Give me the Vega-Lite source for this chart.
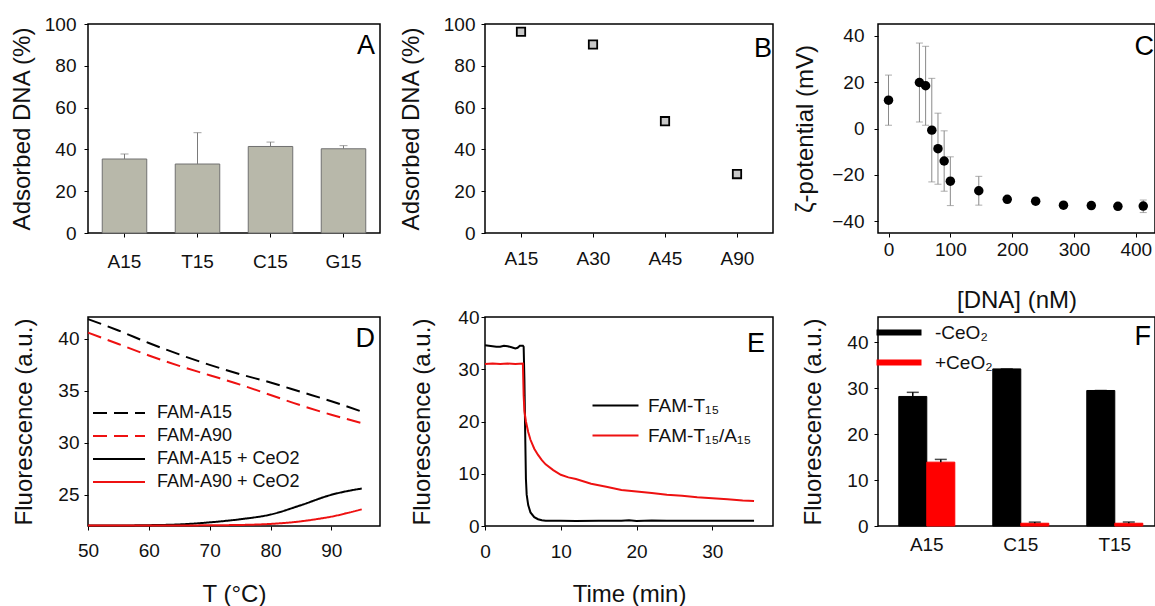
{
  "$schema": "https://vega.github.io/schema/vega-lite/v6.json",
  "padding": {"left": 9, "top": 14, "right": 0, "bottom": 0},
  "config": {
    "font": "Liberation Sans",
    "view": {"stroke": "#000", "strokeWidth": 1.5},
    "axis": {"grid": false, "domain": false, "labelFont": "Liberation Sans", "labelFontSize": 19, "labelColor": "#111", "titleFont": "Liberation Sans", "titleFontSize": 24, "titleFontWeight": "normal", "titleColor": "#111", "tickColor": "#000", "tickSize": 4, "tickWidth": 1, "labelFlush": false, "labelOverlap": false},
    "axisX": {"labelAngle": 0, "titleBaseline": "top"},
    "axisY": {"titleBaseline": "bottom"},
    "title": {"fontSize": 27, "fontWeight": "normal", "anchor": "end", "frame": "group", "color": "#000", "font": "Liberation Sans"},
    "legend": {"padding": 0, "labelFont": "Liberation Sans", "labelColor": "#111"}
  },
  "datasets": {
    "adsA": [
      {"seq": "A15", "pct": 35.4, "upper": 37.8},
      {"seq": "T15", "pct": 33.0, "upper": 48.0},
      {"seq": "C15", "pct": 41.4, "upper": 43.5},
      {"seq": "G15", "pct": 40.3, "upper": 41.8}
    ],
    "adsB": [
      {"seq": "A15", "pct": 96.3},
      {"seq": "A30", "pct": 90.2},
      {"seq": "A45", "pct": 53.5},
      {"seq": "A90", "pct": 28.2}
    ],
    "zeta": [
      {"dna": 0, "zeta": 12.2, "lo": 1.4, "hi": 23.0},
      {"dna": 50, "zeta": 19.8, "lo": 2.8, "hi": 36.8},
      {"dna": 60, "zeta": 18.4, "lo": 1.4, "hi": 35.4},
      {"dna": 70, "zeta": -0.7, "lo": -23.0, "hi": 21.6},
      {"dna": 80, "zeta": -8.7, "lo": -24.0, "hi": 6.6},
      {"dna": 90, "zeta": -14.0, "lo": -27.0, "hi": -1.0},
      {"dna": 100, "zeta": -22.7, "lo": -33.2, "hi": -12.2},
      {"dna": 146, "zeta": -26.8, "lo": -33.0, "hi": -20.6},
      {"dna": 192, "zeta": -30.5, "lo": -31.5, "hi": -29.5},
      {"dna": 238, "zeta": -31.3, "lo": -32.3, "hi": -30.3},
      {"dna": 283, "zeta": -33.0, "lo": -34.0, "hi": -32.0},
      {"dna": 328, "zeta": -33.2, "lo": -34.2, "hi": -32.2},
      {"dna": 371, "zeta": -33.5, "lo": -34.5, "hi": -32.5},
      {"dna": 412, "zeta": -33.4, "lo": -36.2, "hi": -30.8}
    ],
    "melt": [
      {"series": "FAM-A15", "temp": 50, "fl": 41.9},
      {"series": "FAM-A15", "temp": 55, "fl": 40.8},
      {"series": "FAM-A15", "temp": 60, "fl": 39.6},
      {"series": "FAM-A15", "temp": 65, "fl": 38.5},
      {"series": "FAM-A15", "temp": 70, "fl": 37.5},
      {"series": "FAM-A15", "temp": 75, "fl": 36.6},
      {"series": "FAM-A15", "temp": 80, "fl": 35.8},
      {"series": "FAM-A15", "temp": 85, "fl": 34.9},
      {"series": "FAM-A15", "temp": 90, "fl": 34.0},
      {"series": "FAM-A15", "temp": 95, "fl": 33.0},
      {"series": "FAM-A90", "temp": 50, "fl": 40.6},
      {"series": "FAM-A90", "temp": 55, "fl": 39.5},
      {"series": "FAM-A90", "temp": 60, "fl": 38.4},
      {"series": "FAM-A90", "temp": 65, "fl": 37.4},
      {"series": "FAM-A90", "temp": 70, "fl": 36.5},
      {"series": "FAM-A90", "temp": 75, "fl": 35.6},
      {"series": "FAM-A90", "temp": 80, "fl": 34.6},
      {"series": "FAM-A90", "temp": 85, "fl": 33.6},
      {"series": "FAM-A90", "temp": 90, "fl": 32.7},
      {"series": "FAM-A90", "temp": 95, "fl": 31.9},
      {"series": "FAM-A15 + CeO2", "temp": 50, "fl": 22.05},
      {"series": "FAM-A15 + CeO2", "temp": 55, "fl": 22.05},
      {"series": "FAM-A15 + CeO2", "temp": 60, "fl": 22.08},
      {"series": "FAM-A15 + CeO2", "temp": 65, "fl": 22.15},
      {"series": "FAM-A15 + CeO2", "temp": 70, "fl": 22.35},
      {"series": "FAM-A15 + CeO2", "temp": 75, "fl": 22.65},
      {"series": "FAM-A15 + CeO2", "temp": 80, "fl": 23.1},
      {"series": "FAM-A15 + CeO2", "temp": 85, "fl": 24.0},
      {"series": "FAM-A15 + CeO2", "temp": 90, "fl": 25.0},
      {"series": "FAM-A15 + CeO2", "temp": 93, "fl": 25.4},
      {"series": "FAM-A15 + CeO2", "temp": 95, "fl": 25.6},
      {"series": "FAM-A90 + CeO2", "temp": 50, "fl": 22.05},
      {"series": "FAM-A90 + CeO2", "temp": 55, "fl": 22.05},
      {"series": "FAM-A90 + CeO2", "temp": 60, "fl": 22.05},
      {"series": "FAM-A90 + CeO2", "temp": 65, "fl": 22.05},
      {"series": "FAM-A90 + CeO2", "temp": 70, "fl": 22.07},
      {"series": "FAM-A90 + CeO2", "temp": 75, "fl": 22.1},
      {"series": "FAM-A90 + CeO2", "temp": 80, "fl": 22.2},
      {"series": "FAM-A90 + CeO2", "temp": 85, "fl": 22.45},
      {"series": "FAM-A90 + CeO2", "temp": 88, "fl": 22.7},
      {"series": "FAM-A90 + CeO2", "temp": 90, "fl": 22.9},
      {"series": "FAM-A90 + CeO2", "temp": 93, "fl": 23.3},
      {"series": "FAM-A90 + CeO2", "temp": 95, "fl": 23.6}
    ],
    "kinetics": [
      {"series": "FAM-T₁₅", "time": 0, "fl": 34.6},
      {"series": "FAM-T₁₅", "time": 0.5, "fl": 34.5},
      {"series": "FAM-T₁₅", "time": 1, "fl": 34.4},
      {"series": "FAM-T₁₅", "time": 1.5, "fl": 34.3},
      {"series": "FAM-T₁₅", "time": 2, "fl": 34.3},
      {"series": "FAM-T₁₅", "time": 2.5, "fl": 34.5},
      {"series": "FAM-T₁₅", "time": 3, "fl": 34.4},
      {"series": "FAM-T₁₅", "time": 3.5, "fl": 34.2},
      {"series": "FAM-T₁₅", "time": 4, "fl": 34.0},
      {"series": "FAM-T₁₅", "time": 4.3, "fl": 34.1},
      {"series": "FAM-T₁₅", "time": 4.6, "fl": 34.5},
      {"series": "FAM-T₁₅", "time": 5.0, "fl": 34.5},
      {"series": "FAM-T₁₅", "time": 5.1, "fl": 34.3},
      {"series": "FAM-T₁₅", "time": 5.2, "fl": 28.0},
      {"series": "FAM-T₁₅", "time": 5.3, "fl": 18.0},
      {"series": "FAM-T₁₅", "time": 5.4, "fl": 9.0},
      {"series": "FAM-T₁₅", "time": 5.5, "fl": 6.0},
      {"series": "FAM-T₁₅", "time": 5.7, "fl": 4.0},
      {"series": "FAM-T₁₅", "time": 6.0, "fl": 2.6},
      {"series": "FAM-T₁₅", "time": 6.5, "fl": 1.7},
      {"series": "FAM-T₁₅", "time": 7, "fl": 1.3},
      {"series": "FAM-T₁₅", "time": 7.5, "fl": 1.1},
      {"series": "FAM-T₁₅", "time": 8, "fl": 1.0},
      {"series": "FAM-T₁₅", "time": 10, "fl": 1.0},
      {"series": "FAM-T₁₅", "time": 12, "fl": 0.95},
      {"series": "FAM-T₁₅", "time": 15, "fl": 1.0},
      {"series": "FAM-T₁₅", "time": 18, "fl": 1.0},
      {"series": "FAM-T₁₅", "time": 19, "fl": 1.1},
      {"series": "FAM-T₁₅", "time": 20, "fl": 0.95},
      {"series": "FAM-T₁₅", "time": 22, "fl": 1.05},
      {"series": "FAM-T₁₅", "time": 24, "fl": 1.0},
      {"series": "FAM-T₁₅", "time": 27, "fl": 1.0},
      {"series": "FAM-T₁₅", "time": 30, "fl": 1.0},
      {"series": "FAM-T₁₅", "time": 33, "fl": 1.0},
      {"series": "FAM-T₁₅", "time": 35.5, "fl": 1.0},
      {"series": "FAM-T₁₅/A₁₅", "time": 0, "fl": 31.0},
      {"series": "FAM-T₁₅/A₁₅", "time": 1, "fl": 31.1},
      {"series": "FAM-T₁₅/A₁₅", "time": 2, "fl": 31.0},
      {"series": "FAM-T₁₅/A₁₅", "time": 3, "fl": 31.1},
      {"series": "FAM-T₁₅/A₁₅", "time": 4, "fl": 31.0},
      {"series": "FAM-T₁₅/A₁₅", "time": 5.0, "fl": 31.1},
      {"series": "FAM-T₁₅/A₁₅", "time": 5.1, "fl": 25.0},
      {"series": "FAM-T₁₅/A₁₅", "time": 5.2, "fl": 22.0},
      {"series": "FAM-T₁₅/A₁₅", "time": 5.4, "fl": 20.0},
      {"series": "FAM-T₁₅/A₁₅", "time": 5.7, "fl": 18.0},
      {"series": "FAM-T₁₅/A₁₅", "time": 6.0, "fl": 16.5},
      {"series": "FAM-T₁₅/A₁₅", "time": 6.5, "fl": 14.8},
      {"series": "FAM-T₁₅/A₁₅", "time": 7, "fl": 13.6},
      {"series": "FAM-T₁₅/A₁₅", "time": 7.5, "fl": 12.6},
      {"series": "FAM-T₁₅/A₁₅", "time": 8, "fl": 11.8},
      {"series": "FAM-T₁₅/A₁₅", "time": 9, "fl": 10.7},
      {"series": "FAM-T₁₅/A₁₅", "time": 10, "fl": 9.8},
      {"series": "FAM-T₁₅/A₁₅", "time": 11, "fl": 9.3},
      {"series": "FAM-T₁₅/A₁₅", "time": 12, "fl": 9.0},
      {"series": "FAM-T₁₅/A₁₅", "time": 14, "fl": 8.1},
      {"series": "FAM-T₁₅/A₁₅", "time": 16, "fl": 7.5},
      {"series": "FAM-T₁₅/A₁₅", "time": 18, "fl": 6.9},
      {"series": "FAM-T₁₅/A₁₅", "time": 20, "fl": 6.6},
      {"series": "FAM-T₁₅/A₁₅", "time": 22, "fl": 6.3},
      {"series": "FAM-T₁₅/A₁₅", "time": 24, "fl": 6.0},
      {"series": "FAM-T₁₅/A₁₅", "time": 26, "fl": 5.8},
      {"series": "FAM-T₁₅/A₁₅", "time": 28, "fl": 5.5},
      {"series": "FAM-T₁₅/A₁₅", "time": 30, "fl": 5.3},
      {"series": "FAM-T₁₅/A₁₅", "time": 32, "fl": 5.1},
      {"series": "FAM-T₁₅/A₁₅", "time": 34, "fl": 4.9},
      {"series": "FAM-T₁₅/A₁₅", "time": 35.5, "fl": 4.8}
    ],
    "ceo2": [
      {"seq": "A15", "treat": "-CeO₂", "value": 28.2, "upper": 29.1},
      {"seq": "A15", "treat": "+CeO₂", "value": 13.9, "upper": 14.5},
      {"seq": "C15", "treat": "-CeO₂", "value": 34.2, "upper": 34.2},
      {"seq": "C15", "treat": "+CeO₂", "value": 0.6, "upper": 0.85},
      {"seq": "T15", "treat": "-CeO₂", "value": 29.5, "upper": 29.5},
      {"seq": "T15", "treat": "+CeO₂", "value": 0.6, "upper": 0.85}
    ]
  },
  "bounds": "flush",
  "columns": 3,
  "spacing": {"row": 84, "column": 105},
  "resolve": {
    "scale": {"color": "independent", "strokeDash": "independent", "fill": "independent", "stroke": "independent", "x": "independent", "y": "independent", "xOffset": "independent"},
    "legend": {"color": "independent", "strokeDash": "independent", "fill": "independent", "stroke": "independent"}
  },
  "concat": [
    {
      "width": 292, "height": 209,
      "title": {"text": "A", "offset": -44.5, "dx": -5},
      "data": {"name": "adsA"},
      "encoding": {
        "x": {"field": "seq", "type": "nominal", "sort": null, "title": null, "scale": {"paddingInner": 0.39, "paddingOuter": 0.195}, "axis": {"labelPadding": 15}}
      },
      "layer": [
        {
          "mark": {"type": "bar", "fill": "#b8b8aa", "stroke": "#707070", "strokeWidth": 1},
          "encoding": {"y": {"field": "pct", "type": "quantitative", "scale": {"domain": [0, 100], "nice": false}, "axis": {"title": "Adsorbed DNA (%)", "values": [0, 20, 40, 60, 80, 100], "labelPadding": 8, "titleX": -54}}}
        },
        {
          "mark": {"type": "rule", "color": "#7a7a7a", "strokeWidth": 1},
          "encoding": {"y": {"field": "pct", "type": "quantitative", "axis": {"title": "Adsorbed DNA (%)", "values": [0, 20, 40, 60, 80, 100], "labelPadding": 8, "titleX": -54}}, "y2": {"field": "upper"}}
        },
        {
          "mark": {"type": "tick", "color": "#7a7a7a", "size": 8, "thickness": 1},
          "encoding": {"y": {"field": "upper", "type": "quantitative", "axis": {"title": "Adsorbed DNA (%)", "values": [0, 20, 40, 60, 80, 100], "labelPadding": 8, "titleX": -54}}}
        }
      ]
    },
    {
      "width": 288, "height": 209,
      "title": {"text": "B", "offset": -47.5, "dx": -1},
      "data": {"name": "adsB"},
      "mark": {"type": "point", "shape": "square", "size": 70, "fill": "#c8c8c8", "stroke": "#000", "strokeWidth": 1.8, "opacity": 1},
      "encoding": {
        "x": {"field": "seq", "type": "nominal", "sort": null, "title": null, "scale": {"type": "point", "padding": 0.5}, "axis": {"labelPadding": 12}},
        "y": {"field": "pct", "type": "quantitative", "scale": {"domain": [0, 100], "nice": false}, "axis": {"title": "Adsorbed DNA (%)", "values": [0, 20, 40, 60, 80, 100], "labelPadding": 6, "titleX": -62}}
      }
    },
    {
      "width": 277, "height": 209,
      "title": {"text": "C", "offset": -36.75, "dx": -1},
      "data": {"name": "zeta"},
      "encoding": {
        "x": {"field": "dna", "type": "quantitative", "scale": {"domain": [-17, 431], "nice": false, "zero": false}, "axis": {"title": "[DNA] (nM)", "values": [0, 100, 200, 300, 400], "labelPadding": 3, "titleY": 55}}
      },
      "layer": [
        {
          "mark": {"type": "rule", "color": "#8a8a8a", "strokeWidth": 1},
          "encoding": {"y": {"field": "lo", "type": "quantitative", "scale": {"domain": [-45, 45], "nice": false, "zero": false}, "axis": {"title": "ζ-potential (mV)", "values": [-40, -20, 0, 20, 40], "labelPadding": 10, "titleX": -61}}, "y2": {"field": "hi"}}
        },
        {
          "mark": {"type": "tick", "orient": "horizontal", "color": "#8a8a8a", "size": 7, "thickness": 1},
          "encoding": {"y": {"field": "hi", "type": "quantitative", "axis": {"title": "ζ-potential (mV)", "values": [-40, -20, 0, 20, 40], "labelPadding": 10, "titleX": -61}}}
        },
        {
          "mark": {"type": "tick", "orient": "horizontal", "color": "#8a8a8a", "size": 7, "thickness": 1},
          "encoding": {"y": {"field": "lo", "type": "quantitative", "axis": {"title": "ζ-potential (mV)", "values": [-40, -20, 0, 20, 40], "labelPadding": 10, "titleX": -61}}}
        },
        {
          "mark": {"type": "circle", "size": 90, "color": "#000", "opacity": 1},
          "encoding": {"y": {"field": "zeta", "type": "quantitative", "axis": {"title": "ζ-potential (mV)", "values": [-40, -20, 0, 20, 40], "labelPadding": 10, "titleX": -61}}}
        }
      ]
    },
    {
      "width": 292, "height": 209,
      "title": {"text": "D", "offset": -37.75, "dx": -5},
      "data": {"name": "melt"},
      "mark": {"type": "line", "strokeWidth": 2, "interpolate": "monotone"},
      "encoding": {
        "x": {"field": "temp", "type": "quantitative", "scale": {"domain": [50, 98], "nice": false, "zero": false}, "axis": {"title": "T (°C)", "values": [50, 60, 70, 80, 90], "labelPadding": 11, "titleY": 56}},
        "y": {"field": "fl", "type": "quantitative", "scale": {"domain": [22, 42.1], "nice": false, "zero": false}, "axis": {"title": "Fluorescence (a.u.)", "values": [25, 30, 35, 40], "labelPadding": 5, "titleX": -52}},
        "color": {"field": "series", "type": "nominal", "scale": {"domain": ["FAM-A15", "FAM-A90", "FAM-A15 + CeO2", "FAM-A90 + CeO2"], "range": ["#000000", "#ee1111", "#000000", "#ee1111"]},
          "legend": {"title": null, "orient": "none", "legendX": 22, "legendY": 87, "symbolType": "M-5.2,0H5.2", "symbolSize": 100, "symbolStrokeWidth": 2, "labelFontSize": 18, "labelOffset": 29, "rowPadding": 5, "padding": 0}},
        "strokeDash": {"field": "series", "type": "nominal", "scale": {"domain": ["FAM-A15", "FAM-A90", "FAM-A15 + CeO2", "FAM-A90 + CeO2"], "range": [[14, 7], [14, 7], [1, 0], [1, 0]]},
          "legend": {"title": null, "orient": "none", "legendX": 22, "legendY": 87, "symbolType": "M-5.2,0H5.2", "symbolSize": 100, "symbolStrokeWidth": 2, "labelFontSize": 18, "labelOffset": 29, "rowPadding": 5, "padding": 0}}
      }
    },
    {
      "width": 288, "height": 209,
      "title": {"text": "E", "offset": -49.5, "dx": -8},
      "data": {"name": "kinetics"},
      "mark": {"type": "line", "strokeWidth": 2},
      "encoding": {
        "x": {"field": "time", "type": "quantitative", "scale": {"domain": [0, 38], "nice": false, "zero": false}, "axis": {"title": "Time (min)", "values": [0, 10, 20, 30], "labelPadding": 12, "titleY": 56}},
        "y": {"field": "fl", "type": "quantitative", "scale": {"domain": [0, 40], "nice": false}, "axis": {"title": "Fluorescence (a.u.)", "values": [0, 10, 20, 30, 40], "labelPadding": 2, "titleX": -51}},
        "color": {"field": "series", "type": "nominal", "scale": {"domain": ["FAM-T₁₅", "FAM-T₁₅/A₁₅"], "range": ["#000000", "#ee1111"]},
          "legend": {"title": null, "orient": "none", "legendX": 121, "legendY": 79, "symbolType": "M-4.6,0H4.6", "symbolSize": 100, "symbolStrokeWidth": 2, "labelFontSize": 19, "labelOffset": 23, "rowPadding": 10, "padding": 0}}
      }
    },
    {
      "width": 277, "height": 209,
      "title": {"text": "F", "offset": -33.75, "dx": -4},
      "data": {"name": "ceo2"},
      "encoding": {
        "x": {"field": "seq", "type": "nominal", "sort": null, "title": null, "scale": {"paddingInner": 0.404, "paddingOuter": 0.1754, "align": 0.63}, "axis": {"labelPadding": 9, "ticks": false}},
        "xOffset": {"field": "treat", "type": "nominal", "scale": {"domain": ["-CeO₂", "+CeO₂"], "paddingInner": 0, "paddingOuter": 0}}
      },
      "layer": [
        {
          "mark": {"type": "bar", "strokeWidth": 1},
          "encoding": {
            "y": {"field": "value", "type": "quantitative", "scale": {"domain": [0, 45.5], "nice": false}, "axis": {"title": "Fluorescence (a.u.)", "values": [0, 10, 20, 30, 40], "labelPadding": 6, "titleX": -53}},
            "fill": {"field": "treat", "type": "nominal", "scale": {"domain": ["-CeO₂", "+CeO₂"], "range": ["#000000", "#ff0000"]},
              "legend": {"title": null, "orient": "none", "legendX": 11.5, "legendY": 6, "symbolType": "M-4.5,0H4.5", "symbolSize": 100, "symbolStrokeWidth": 6, "labelFontSize": 19, "labelOffset": 26.5, "rowPadding": 5, "padding": 0}},
            "stroke": {"field": "treat", "type": "nominal", "scale": {"domain": ["-CeO₂", "+CeO₂"], "range": ["#000000", "#ff0000"]},
              "legend": {"title": null, "orient": "none", "legendX": 11.5, "legendY": 6, "symbolType": "M-4.5,0H4.5", "symbolSize": 100, "symbolStrokeWidth": 6, "labelFontSize": 19, "labelOffset": 26.5, "rowPadding": 5, "padding": 0}}
          }
        },
        {
          "mark": {"type": "rule", "color": "#000", "strokeWidth": 1.5},
          "encoding": {"y": {"field": "value", "type": "quantitative", "axis": {"title": "Fluorescence (a.u.)", "values": [0, 10, 20, 30, 40], "labelPadding": 6, "titleX": -53}}, "y2": {"field": "upper"}}
        },
        {
          "mark": {"type": "tick", "color": "#000", "size": 12, "thickness": 1.5},
          "encoding": {"y": {"field": "upper", "type": "quantitative", "axis": {"title": "Fluorescence (a.u.)", "values": [0, 10, 20, 30, 40], "labelPadding": 6, "titleX": -53}}}
        }
      ]
    }
  ]
}
